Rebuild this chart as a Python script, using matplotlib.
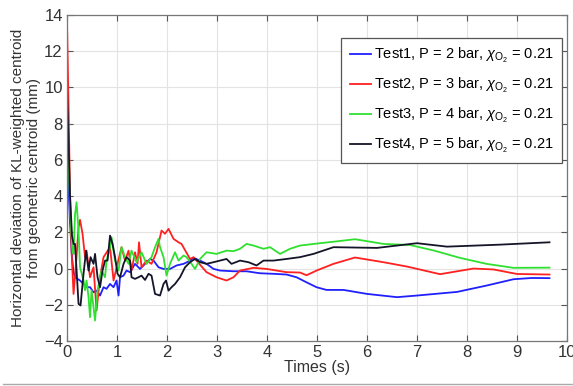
import numpy as np
import matplotlib
matplotlib.use("Agg")
import matplotlib.pyplot as plt
from matplotlib.lines import Line2D

plt.rcParams["font.family"] = ["Liberation Sans", "DejaVu Sans"]
plt.rcParams["mathtext.fontset"] = "custom"
plt.rcParams["mathtext.rm"] = "Liberation Sans"
plt.rcParams["mathtext.it"] = "Liberation Sans:italic"

# --- data (time in s, deviation in mm) ---
t1 = [0.00, 0.03, 0.06, 0.10, 0.13, 0.16, 0.26, 0.33, 0.39, 0.46, 0.53, 0.59, 0.66, 0.73,
      0.79, 0.86, 0.93, 0.99, 1.03, 1.06, 1.13, 1.19, 1.26, 1.36, 1.46, 1.56, 1.66, 1.73,
      1.83, 1.93, 2.06, 2.19, 2.33, 2.43, 2.53, 2.66, 2.79, 2.93, 3.06, 3.33, 3.59, 3.86,
      4.13, 4.39, 4.59, 4.79, 4.99, 5.19, 5.53, 6.00, 6.60, 7.00, 7.80, 8.39, 8.93, 9.30, 9.65]
y1 = [6.2, 4.5, 2.5, 0.6, -0.2, -0.48, -0.66, -0.85, -1.03, -1.03, -1.31, -1.22, -1.49, -1.03,
      -1.12, -0.85, -1.03, -0.66, -1.49, -0.48, -0.39, -0.11, -0.20, 0.26, -0.02, 0.26, 0.53, 0.44,
      0.07, -0.02, -0.02, 0.17, 0.26, 0.39, 0.59, 0.44, 0.26, -0.02, -0.11, -0.15, -0.15, -0.26,
      -0.29, -0.33, -0.48, -0.76, -1.03, -1.18, -1.18, -1.40, -1.58, -1.49, -1.29, -0.94, -0.59, -0.52, -0.53]

t2 = [0.00, 0.03, 0.06, 0.09, 0.13, 0.18, 0.23, 0.26, 0.31, 0.36, 0.39, 0.46, 0.53, 0.59,
      0.66, 0.73, 0.86, 0.93, 1.09, 1.16, 1.23, 1.29, 1.36, 1.41, 1.44, 1.49, 1.59, 1.69,
      1.79, 1.89, 1.96, 2.03, 2.13, 2.23, 2.29, 2.46, 2.53, 2.79, 2.99, 3.19, 3.33, 3.46,
      3.73, 3.99, 4.39, 4.66, 4.79, 5.00, 5.33, 5.76, 6.33, 6.80, 7.46, 8.13, 8.53, 9.00, 9.65]
y2 = [13.5, 9.0, 4.0, 1.0, -1.40, 0.26, 2.28, 2.69, 1.92, 0.63, 0.99, -0.48, 0.07, -2.32,
      -0.48, 0.63, 1.18, -0.66, 1.18, 0.44, 0.99, -0.11, 0.90, 0.26, 1.45, 0.07, 0.44, 0.26,
      0.90, 2.10, 1.92, 2.19, 1.64, 1.45, 1.36, 0.53, 0.63, -0.20, -0.48, -0.66, -0.48, -0.11,
      0.04, -0.02, -0.20, -0.22, -0.37, -0.10, 0.26, 0.61, 0.35, 0.11, -0.31, 0.00, -0.05, -0.30, -0.33]

t3 = [0.00, 0.03, 0.06, 0.10, 0.13, 0.16, 0.19, 0.23, 0.26, 0.33, 0.36, 0.39, 0.43, 0.46,
      0.49, 0.53, 0.56, 0.61, 0.69, 0.76, 0.79, 0.86, 0.89, 0.96, 1.03, 1.09, 1.16, 1.23,
      1.29, 1.39, 1.49, 1.59, 1.69, 1.76, 1.83, 1.86, 1.93, 1.99, 2.06, 2.16, 2.23, 2.33,
      2.39, 2.49, 2.56, 2.66, 2.79, 2.99, 3.19, 3.33, 3.46, 3.59, 3.73, 3.93, 4.06, 4.26,
      4.46, 4.66, 5.06, 5.39, 5.76, 6.33, 6.86, 7.33, 7.86, 8.39, 8.93, 9.65]
y3 = [8.4, 6.0, 3.5, 1.2, 0.8, 3.0, 3.66, 2.10, 0.07, -0.66, -1.20, -0.66, -1.58, -2.69,
      -1.20, -2.14, -2.87, -1.20, -0.11, -0.48, 0.44, 1.18, 1.73, 0.44, -0.11, 1.18, 0.63, 0.26,
      0.99, 0.35, 0.90, 0.26, 0.63, 1.18, 1.64, 1.18, 0.63, -0.39, 0.26, 0.90, 0.44, 0.72,
      0.63, 0.26, -0.02, 0.53, 0.90, 0.81, 0.99, 0.96, 1.09, 1.36, 1.27, 1.09, 1.18, 0.81,
      1.09, 1.27, 1.40, 1.50, 1.62, 1.36, 1.30, 1.00, 0.59, 0.26, 0.04, 0.05]

t4 = [0.00, 0.03, 0.06, 0.10, 0.13, 0.16, 0.23, 0.27, 0.33, 0.38, 0.43, 0.47, 0.53, 0.56,
      0.61, 0.66, 0.71, 0.76, 0.81, 0.86, 0.91, 0.96, 1.01, 1.06, 1.13, 1.19, 1.26, 1.29,
      1.36, 1.43, 1.49, 1.56, 1.63, 1.69, 1.76, 1.86, 1.93, 1.98, 2.03, 2.09, 2.16, 2.26,
      2.36, 2.46, 2.56, 2.66, 2.79, 2.93, 3.06, 3.19, 3.29, 3.46, 3.63, 3.79, 3.93, 4.13,
      4.39, 4.66, 4.93, 5.19, 5.33, 6.20, 7.00, 7.60, 8.66, 9.65]
y4 = [9.9, 7.0, 4.0, 1.8, 1.36, 1.36, -1.95, -2.04, -0.29, 0.99, -0.11, 0.63, 0.26, 0.81,
      -0.48, -1.03, -0.11, 0.44, 0.44, 1.82, 1.36, 0.63, -0.29, -0.48, 0.26, 0.63, 0.44, -0.48,
      -0.57, -0.48, -0.39, -0.63, -0.29, -0.39, -1.40, -1.49, -0.85, -0.66, -1.22, -1.03, -0.85, -0.48,
      0.07, 0.35, 0.53, 0.35, 0.26, 0.35, 0.44, 0.53, 0.26, 0.44, 0.35, 0.17, 0.44, 0.44,
      0.53, 0.63, 0.81, 1.05, 1.18, 1.14, 1.40, 1.21, 1.32, 1.45]

labels = [r"Test1, P = 2 bar, $\chi_{\mathrm{O}_2}$ = 0.21",
          r"Test2, P = 3 bar, $\chi_{\mathrm{O}_2}$ = 0.21",
          r"Test3, P = 4 bar, $\chi_{\mathrm{O}_2}$ = 0.21",
          r"Test4, P = 5 bar, $\chi_{\mathrm{O}_2}$ = 0.21"]
colors = ["#2020ff", "#ff2020", "#30e030", "#15152a"]


fig = plt.figure(figsize=(5.73, 3.86), dpi=100)
ax = fig.add_axes([0.117, 0.1166, 0.8725, 0.8445])

for t, y, c, lab in zip([t1, t2, t3, t4], [y1, y2, y3, y4], colors, labels):
    ax.plot(t, y, color=c, linewidth=1.3, label=lab)

ax.set_xlim(0, 10)
ax.set_ylim(-4, 14)
ax.set_xticks(np.arange(0, 11, 1))
ax.set_yticks(np.arange(-4, 15, 2))
ax.grid(True, color="#e3e3e3", linewidth=0.8)
ax.set_axisbelow(True)

ax.tick_params(direction="in", top=True, right=True, length=4, width=0.8,
               labelsize=12, colors="#555555", labelcolor="#333333", pad=3)
for s in ax.spines.values():
    s.set_color("#777777")
    s.set_linewidth(0.9)

ax.set_xlabel("Times (s)", fontsize=11.5, color="#333333", labelpad=0)
ax.set_ylabel("Horizontal deviation of KL-weighted centroid\nfrom geometric centroid (mm)",
              fontsize=11, color="#333333", labelpad=2)

leg = ax.legend(loc="upper right", bbox_to_anchor=(0.99, 0.929), borderaxespad=0,
                fontsize=10.5, handlelength=1.5, handletextpad=0.2, labelspacing=0.75,
                fancybox=False, framealpha=1, edgecolor="#555555", borderpad=0.55)
leg.get_frame().set_linewidth(0.9)

# thin gray rule along the bottom of the screenshot
fig.add_artist(Line2D([0.005, 1.0], [0.006, 0.006], color="#aaaaaa", linewidth=1.0))

fig.savefig("out.png", dpi=100)
